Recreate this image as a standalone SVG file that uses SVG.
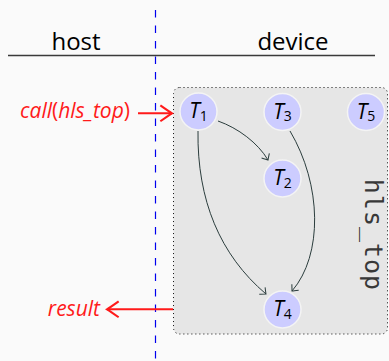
<svg xmlns="http://www.w3.org/2000/svg" width="389" height="361" viewBox="0 0 389 361">
  <style>
    .head { font-family: "Open Sans", "Noto Sans", sans-serif; font-size: 24px; fill: #000; text-anchor: middle; }
    .red { font-family: "Open Sans", "Noto Sans", sans-serif; font-size: 21px; fill: #ff1a1a; }
    .it { font-style: italic; }
    .task circle { fill: #ccccff; stroke: #f4f4f4; stroke-width: 1.5; }
    .task text { font-family: "Open Sans", "Noto Sans", sans-serif; font-size: 21px; fill: #000; text-anchor: middle; }
    .task .sub { font-size: 14px; font-style: normal; }
    .edge { fill: none; stroke: #2b3d3d; stroke-width: 1; }
    .io { fill: none; stroke: #ff1a1a; stroke-width: 2; }
  </style>
  <defs>
    <marker id="to" markerUnits="userSpaceOnUse" markerWidth="12" markerHeight="12" refX="0" refY="0" viewBox="-7 -6 8 12" orient="auto">
      <path d="M -5,-4.5 Q -1.2,-1 0,0 Q -1.2,1 -5,4.5" fill="none" stroke="#2b3d3d" stroke-width="1"/>
    </marker>
    <marker id="to-red" markerUnits="userSpaceOnUse" markerWidth="18" markerHeight="20" refX="0" refY="0" viewBox="-15 -9 17 18" orient="auto">
      <path d="M -11,-7.5 Q -2.5,-1.5 0,0 Q -2.5,1.5 -11,7.5" fill="none" stroke="#ff1a1a" stroke-width="2"/>
    </marker>
  </defs>

  <rect width="389" height="361" fill="#fafafa"/>

  <!-- host / device split -->
  <line x1="155.5" y1="10" x2="155.5" y2="361" stroke="#0000ee" stroke-width="1.2" stroke-dasharray="7.5,8"/>
  <line x1="8" y1="55.5" x2="375" y2="55.5" stroke="#3a3a3a" stroke-width="1.6"/>
  <text class="head" x="76" y="50">host</text>
  <text class="head" x="293" y="50">device</text>

  <!-- hls_top region -->
  <g id="hls_top">
    <rect x="173.5" y="87.5" width="214" height="246.5" rx="6" fill="#e6e6e6" stroke="#111" stroke-width="1" stroke-dasharray="1,3"/>
    <text x="365" y="235" transform="rotate(90 365 235)" font-family="'DejaVu Sans Mono', 'Liberation Mono', monospace" font-size="25" letter-spacing="1" fill="#383838" text-anchor="middle">hls_top</text>
  </g>

  <!-- call / result -->
  <g id="call">
    <text class="red" x="130" y="118" text-anchor="end"><tspan class="it">call</tspan>(<tspan class="it">hls_top</tspan>)</text>
  </g>
  <g id="result">
    <text class="red it" x="100" y="316" text-anchor="end" font-size="19.5">result</text>
  </g>

  <g id="connectors">
    <line class="io" x1="138" y1="113.3" x2="172" y2="113.3" marker-end="url(#to-red)"/>
    <line class="io" x1="173" y1="309.3" x2="107" y2="309.3" marker-end="url(#to-red)"/>
    <path class="edge" d="M 218,121 C 238,128 258,143 268,160" marker-end="url(#to)"/>
    <path class="edge" d="M 198,131 C 197,200 220,255 266,294" marker-end="url(#to)"/>
    <path class="edge" d="M 290,131 C 322,185 323,255 292,291" marker-end="url(#to)"/>
  </g>

  <!-- tasks -->
  <g id="T1" class="task">
    <circle cx="198.5" cy="111.5" r="18.5"/>
    <text x="198.5" y="118"><tspan class="it">T</tspan><tspan class="sub" dy="2.5">1</tspan></text>
  </g>
  <g id="T3" class="task">
    <circle cx="282.5" cy="112" r="18.5"/>
    <text x="282.5" y="118.5"><tspan class="it">T</tspan><tspan class="sub" dy="2.5">3</tspan></text>
  </g>
  <g id="T5" class="task">
    <circle cx="366" cy="112" r="18.5"/>
    <text x="366" y="118.5"><tspan class="it">T</tspan><tspan class="sub" dy="2.5">5</tspan></text>
  </g>
  <g id="T2" class="task">
    <circle cx="282.5" cy="178.5" r="18.5"/>
    <text x="282.5" y="185"><tspan class="it">T</tspan><tspan class="sub" dy="2.5">2</tspan></text>
  </g>
  <g id="T4" class="task">
    <circle cx="282.5" cy="309.5" r="18.5"/>
    <text x="282.5" y="316"><tspan class="it">T</tspan><tspan class="sub" dy="2.5">4</tspan></text>
  </g>
</svg>
